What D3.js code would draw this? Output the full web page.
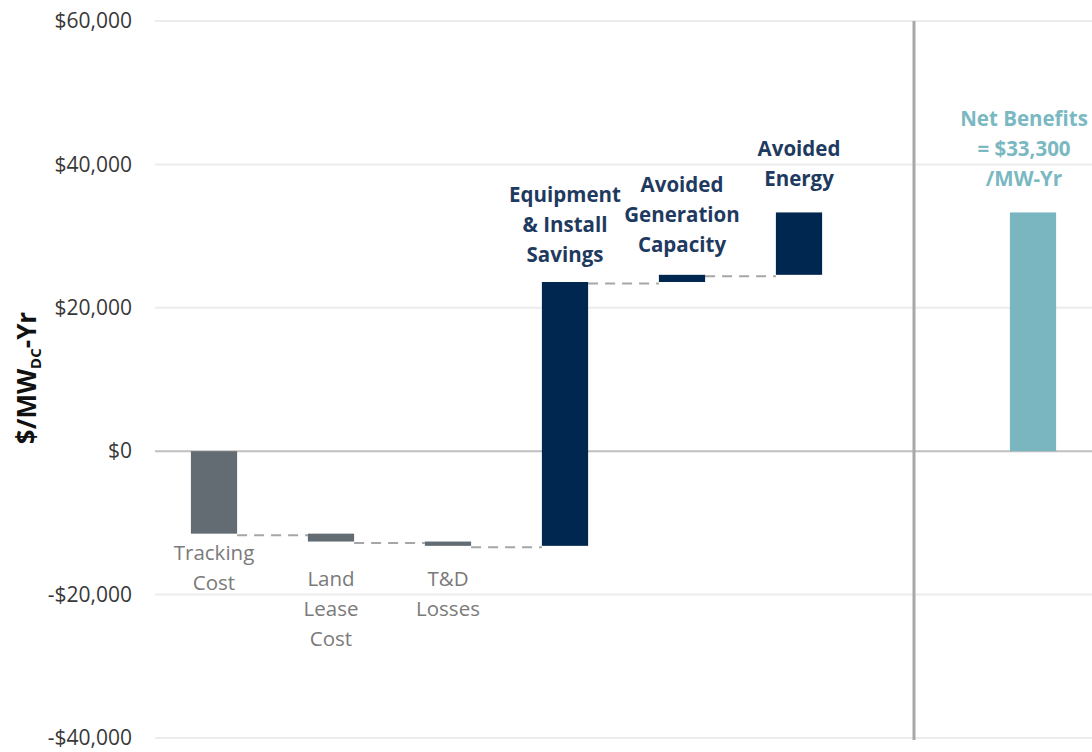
<!DOCTYPE html>
<html>
<head>
<meta charset="utf-8">
<script src="https://cdn.jsdelivr.net/npm/d3@7"></script>
<style>
  body { margin: 0; background: #fff; }
  svg { display: block; }
  text { font-family: "Open Sans", Lato, sans-serif; }
</style>
</head>
<body>
<svg id="chart" width="1092" height="752"></svg>
<script>
// ---- data ----
const categories = ["Tracking Cost", "Land Lease Cost", "T&D Losses", "Equipment & Install Savings",
                    "Avoided Generation Capacity", "Avoided Energy", "gap", "Net Benefits"];
const deltas = [-11500, -1100, -600, 36800, 1000, 8700];
const netBenefit = 33300;
const labelLines = [
  ["Tracking", "Cost"],
  ["Land", "Lease", "Cost"],
  ["T&D", "Losses"],
  ["Equipment", "& Install", "Savings"],
  ["Avoided", "Generation", "Capacity"],
  ["Avoided", "Energy"],
  [],
  ["Net Benefits", "= $33,300", "/MW-Yr"]
];
const yTicks = [-40000, -20000, 0, 20000, 40000, 60000];

// ---- layout ----
const labelGap = [0, 0, 0, 20, 23, 26, 0, 26];

const svg = d3.select("#chart");
const x = d3.scaleBand().domain(categories).range([155.5, 1091.5]).paddingInner(0.605).paddingOuter(0.3025);
const y = d3.scaleLinear().domain([-40000, 60000]).range([738, 21]);

const colNeg = "#646c73", colPos = "#00274f", colNet = "#7ab6bf";
const txtNeg = "#7a7a7a", txtPos = "#1f3a60", txtNet = "#7ab8c2";

// gridlines
svg.append("g").selectAll("line").data(yTicks).join("line")
  .attr("x1", 155).attr("x2", 1092)
  .attr("y1", d => y(d)).attr("y2", d => y(d))
  .attr("stroke", d => d === 0 ? "#bfbfbf" : "#ececec")
  .attr("stroke-width", 2);

// y axis labels
const yAxis = d3.axisLeft(y).tickValues(yTicks)
  .tickFormat(d => (d < 0 ? "-$" : "$") + d3.format(",")(Math.abs(d)))
  .tickSize(0).tickPadding(0);
const gy = svg.append("g").attr("transform", "translate(132,0)").call(yAxis);
gy.select(".domain").remove();
gy.selectAll("text").attr("font-size", 21).attr("fill", "#383838")
  .style("font-family", "'Open Sans', sans-serif");

// y axis title
const title = svg.append("text")
  .attr("transform", "translate(36,378) rotate(-90)")
  .attr("text-anchor", "middle")
  .attr("font-size", 26).attr("font-weight", "bold").attr("fill", "#111");
title.append("tspan").text("$/MW");
title.append("tspan").attr("font-size", 15).attr("dy", 5).text("DC");
title.append("tspan").attr("dy", -5).text("-Yr");

// separator
svg.append("line")
  .attr("x1", x("gap") + x.bandwidth() / 2 - 2).attr("x2", x("gap") + x.bandwidth() / 2 - 2)
  .attr("y1", y(60000)).attr("y2", y(-40000) + 2)
  .attr("stroke", "#a8a8a8").attr("stroke-width", 3);

// waterfall data
let run = 0;
const steps = deltas.map((d, i) => {
  const start = run; run += d;
  return { cat: categories[i], start, end: run, d };
});

// connectors
const conn = svg.append("g");
for (let i = 0; i < steps.length - 1; i++) {
  conn.append("line")
    .attr("x1", x(steps[i].cat) + x.bandwidth()).attr("x2", x(steps[i + 1].cat))
    .attr("y1", y(steps[i].end) + 1.5).attr("y2", y(steps[i].end) + 1.5)
    .attr("stroke", "#a6a6a6").attr("stroke-width", 2)
    .attr("stroke-dasharray", "10,7");
}

// bars
svg.append("g").selectAll("rect").data(steps).join("rect")
  .attr("x", d => x(d.cat)).attr("width", x.bandwidth())
  .attr("y", d => y(Math.max(d.start, d.end)))
  .attr("height", d => Math.abs(y(d.start) - y(d.end)))
  .attr("fill", d => d.d < 0 ? colNeg : colPos);

svg.append("rect")
  .attr("x", x("Net Benefits")).attr("width", x.bandwidth())
  .attr("y", y(netBenefit)).attr("height", y(0) - y(netBenefit))
  .attr("fill", colNet);

// labels
const lh = 30;
steps.forEach((s, i) => {
  const lines = labelLines[i];
  const cx = x(s.cat) + x.bandwidth() / 2;
  const t = svg.append("text").attr("text-anchor", "middle").attr("font-size", 20.5);
  if (s.d < 0) {
    const top = i === 0 ? y(s.end) + 26 : y(-13200) + 40;
    t.attr("fill", txtNeg);
    lines.forEach((l, k) => t.append("tspan").attr("x", cx).attr("y", top + k * lh).text(l));
  } else {
    const bottom = y(Math.max(s.start, s.end)) - labelGap[i];
    t.attr("fill", txtPos).attr("font-weight", "bold");
    lines.forEach((l, k) => t.append("tspan").attr("x", cx)
      .attr("y", bottom - (lines.length - 1 - k) * lh).text(l));
  }
});
// net label
{
  const lines = labelLines[7];
  const cx = x("Net Benefits") + x.bandwidth() / 2 - 9;
  const bottom = y(netBenefit) - labelGap[7];
  const t = svg.append("text").attr("text-anchor", "middle").attr("font-size", 20.5)
    .attr("font-weight", "bold").attr("fill", txtNet);
  lines.forEach((l, k) => t.append("tspan").attr("x", cx)
    .attr("y", bottom - (lines.length - 1 - k) * lh).text(l));
}
</script>
</body>
</html>
